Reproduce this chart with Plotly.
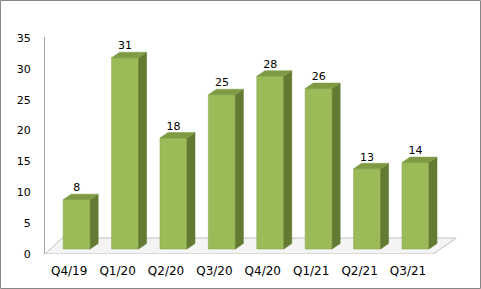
import plotly.graph_objects as go

# ---- data ----
categories = ["Q4/19", "Q1/20", "Q2/20", "Q3/20", "Q4/20", "Q1/21", "Q2/21", "Q3/21"]
values = [8, 31, 18, 25, 28, 26, 13, 14]
y_ticks = [0, 5, 10, 15, 20, 25, 30, 35]

# ---- geometry / style (pseudo-3D look) ----
W, H = 481, 289
X_PX = 48.4                 # px per category
Y_PX = 216 / 35             # px per unit
FRONT_SHIFT = 7.5 / X_PX    # bar front face offset right of label
BAR_W = 27 / X_PX
DEPTH_X = 8 / X_PX
DEPTH_Y = 5.5 / Y_PX
BASE = 5 / Y_PX
FLOOR_BACK = 16 / Y_PX

FRONT_C = "#9BBB59"
SIDE_C = "#637A32"
TOP_C = "#7E9B43"
FONT = "DejaVu Sans"

xs = list(range(len(categories)))
centers = [x + FRONT_SHIFT for x in xs]

fig = go.Figure()

# front faces
fig.add_trace(go.Bar(
    x=centers, y=values, base=BASE, width=BAR_W,
    marker=dict(color=FRONT_C, line=dict(color="#8AAA4C", width=0.6)),
    hoverinfo="skip", showlegend=False,
))

# side & top faces
for c, v in zip(centers, values):
    xl, xr = c - BAR_W / 2, c + BAR_W / 2
    top = BASE + v
    fig.add_trace(go.Scatter(
        x=[xr, xr + DEPTH_X, xr + DEPTH_X, xr, xr],
        y=[BASE, BASE + DEPTH_Y, top + DEPTH_Y, top, BASE],
        mode="lines", fill="toself", fillcolor=SIDE_C,
        line=dict(color=SIDE_C, width=0.5), hoverinfo="skip", showlegend=False,
    ))
    fig.add_trace(go.Scatter(
        x=[xl, xl + DEPTH_X, xr + DEPTH_X, xr, xl],
        y=[top, top + DEPTH_Y, top + DEPTH_Y, top, top],
        mode="lines", fill="toself", fillcolor=TOP_C,
        line=dict(color=TOP_C, width=0.5), hoverinfo="skip", showlegend=False,
    ))

# data labels
fig.add_trace(go.Scatter(
    x=centers, y=[BASE + v + DEPTH_Y for v in values],
    mode="text", text=[str(v) for v in values], textposition="top center",
    textfont=dict(family=FONT, size=11, color="#000000"),
    hoverinfo="skip", showlegend=False, cliponaxis=False,
))

x_lo, x_hi = -0.5, 8.0
floor_front_r = (433 - 69) / X_PX
floor_back_l = (62 - 69) / X_PX
floor_path = (f"M {x_lo},0 L {floor_front_r},0 L {x_hi},{FLOOR_BACK} "
              f"L {floor_back_l},{FLOOR_BACK} Z")

left = 45
right = left + (x_hi - x_lo) * X_PX
top_px, bot_px = 38, 254

fig.update_layout(
    width=W, height=H,
    margin=dict(l=0, r=0, t=0, b=0),
    paper_bgcolor="white", plot_bgcolor="rgba(0,0,0,0)",
    barmode="overlay",
    xaxis=dict(
        domain=[left / W, right / W], range=[x_lo, x_hi],
        tickmode="array", tickvals=xs, ticktext=categories,
        showgrid=False, zeroline=False, showline=False, ticks="",
        tickfont=dict(family=FONT, size=12, color="#000000"),
        ticklabelstandoff=8, automargin=False,
    ),
    yaxis=dict(
        domain=[(H - bot_px) / H, (H - top_px + 1) / H], range=[0, 35 + 1 / Y_PX],
        tickmode="array", tickvals=y_ticks,
        showgrid=False, zeroline=False, showline=True, linecolor="#A6A6A6",
        linewidth=1, ticks="",
        tickfont=dict(family=FONT, size=11, color="#000000"),
        ticklabelstandoff=11, automargin=False,
    ),
    shapes=[
        dict(type="path", path=floor_path, xref="x", yref="y", layer="below",
             fillcolor="#F4F4F4", line=dict(color="#BFBFBF", width=1)),
        dict(type="rect", xref="paper", yref="paper",
             x0=0.5 / W, x1=(W - 0.5) / W, y0=0.5 / H, y1=(H - 0.5) / H,
             line=dict(color="#868686", width=1)),
    ],
)

fig.write_html("out.html")
